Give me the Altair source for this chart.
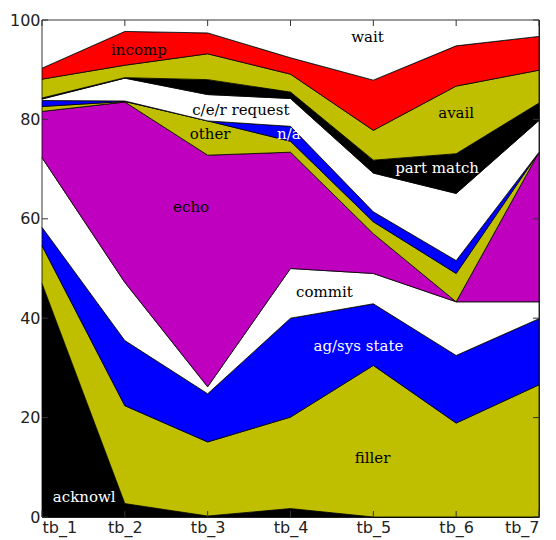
import altair as alt
import pandas as pd

timebins = ["tb_1", "tb_2", "tb_3", "tb_4", "tb_5", "tb_6", "tb_7"]
categories = ["acknowl", "filler", "ag/sys state", "commit", "echo", "other",
              "n/a", "c/e/r request", "part match", "avail", "incomp", "wait"]
colors = ["#000000", "#bfbf00", "#0000ff", "#ffffff", "#bf00bf", "#bfbf00",
          "#0000ff", "#ffffff", "#000000", "#bfbf00", "#ff0000", "#ffffff"]

acknowl = [47.0, 2.7, 0.2, 1.7, 0.0, 0.0, 0.0]
filler = [7.6, 19.7, 14.9, 18.4, 30.5, 18.9, 26.6]
ag_sys = [3.7, 13.1, 9.7, 19.9, 12.4, 13.6, 13.3]
commit = [14.0, 11.7, 1.4, 10.0, 6.1, 10.8, 3.4]
echo = [9.3, 36.3, 46.6, 23.4, 8.0, 0.0, 30.1]
other = [1.0, 0.1, 6.9, 2.2, 2.4, 5.7, 0.0]
n_a = [1.2, 0.1, 0.0, 3.0, 2.0, 2.6, 0.0]
cer_request = [0.3, 4.6, 5.3, 5.6, 7.8, 13.5, 6.4]
part_match = [0.2, 0.1, 3.0, 1.3, 2.6, 8.0, 3.5]
avail = [3.8, 2.5, 5.2, 3.6, 6.0, 13.6, 6.6]
incomp = [2.2, 6.8, 4.2, 3.3, 10.1, 8.1, 6.8]
wait = [9.7, 2.3, 2.6, 7.6, 12.1, 5.2, 3.3]

series = [acknowl, filler, ag_sys, commit, echo, other, n_a, cer_request,
          part_match, avail, incomp, wait]

label_text = ["incomp", "wait", "c/e/r request", "other", "n/a", "avail",
              "part match", "echo", "commit", "ag/sys state", "filler", "acknowl"]
label_x = [2.17, 4.93, 3.40, 3.03, 3.98, 6.00, 5.77, 2.80, 4.41, 4.82, 4.99, 1.51]
label_y = [93.9, 96.6, 81.8, 77.0, 77.0, 81.2, 70.2, 62.3, 45.2, 34.5, 11.8, 4.0]
label_color = ["black", "black", "black", "black", "white", "black",
               "white", "black", "black", "white", "black", "white"]

y_ticks = [0, 20, 40, 60, 80, 100]
x_ticks = [1, 2, 3, 4, 5, 6, 7]

rows = []
for i, (cat, vals) in enumerate(zip(categories, series)):
    for j, v in enumerate(vals):
        rows.append({"x": j + 1, "tb": timebins[j], "cat": cat, "idx": i, "value": v})
df = pd.DataFrame(rows)

labels = pd.DataFrame({"text": label_text, "x": label_x, "y": label_y, "c": label_color})
yt = pd.DataFrame({"t": y_ticks})
xt = pd.DataFrame({"t": x_ticks})

W, H = 497, 497
xscale = alt.Scale(domain=[1, 7], nice=False)
yscale = alt.Scale(domain=[0, 100], nice=False)

areas = alt.Chart(df).mark_area(
    stroke="black", strokeWidth=0.8, opacity=1, interpolate="linear"
).encode(
    x=alt.X("x:Q", scale=xscale,
            axis=alt.Axis(values=x_ticks, labelExpr="'tb_' + datum.value", title=None)),
    y=alt.Y("value:Q", stack="zero", scale=yscale,
            axis=alt.Axis(values=y_ticks, title=None)),
    color=alt.Color("cat:N", scale=alt.Scale(domain=categories, range=colors), legend=None),
    order=alt.Order("idx:Q"),
)

texts = alt.Chart(labels).mark_text(font="DejaVu Serif", fontSize=15).encode(
    x=alt.X("x:Q", scale=xscale),
    y=alt.Y("y:Q", scale=yscale),
    text="text:N",
    color=alt.Color("c:N", scale=None),
)

tick_l = alt.Chart(yt).mark_rule(color="#333333", strokeWidth=1).encode(
    x=alt.value(0), x2=alt.value(6), y=alt.Y("t:Q", scale=yscale))
tick_r = alt.Chart(yt).mark_rule(color="#333333", strokeWidth=1).encode(
    x=alt.value(W - 6), x2=alt.value(W), y=alt.Y("t:Q", scale=yscale))
tick_b = alt.Chart(xt).mark_rule(color="#333333", strokeWidth=1).encode(
    x=alt.X("t:Q", scale=xscale), y=alt.value(H - 6), y2=alt.value(H))
tick_t = alt.Chart(xt).mark_rule(color="#333333", strokeWidth=1).encode(
    x=alt.X("t:Q", scale=xscale), y=alt.value(0), y2=alt.value(6))

chart = alt.layer(areas, texts, tick_l, tick_r, tick_b, tick_t).properties(
    width=W, height=H,
    padding={"left": 1, "top": 4, "right": 0, "bottom": 8},
).configure_view(
    stroke="#333333", strokeWidth=1
).configure_axis(
    domain=False, grid=False, ticks=False,
    labelFont="DejaVu Sans", labelFontSize=16, labelColor="#222222", labelPadding=2,
)

chart.save("out.html", embed_options={"renderer": "svg", "actions": False})
